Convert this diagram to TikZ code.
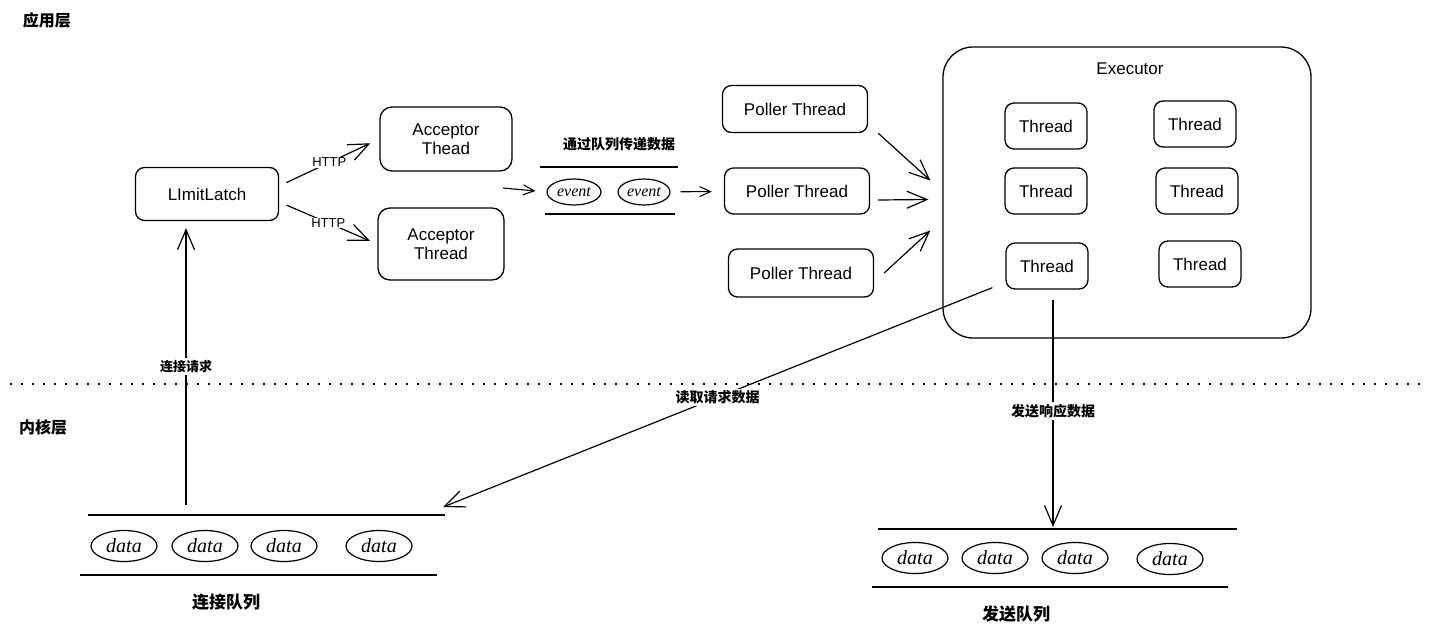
\documentclass[tikz,border=0pt]{standalone}
\usepackage{fontspec}
\setmainfont{Liberation Sans}
\newfontfamily\cjk{Noto Sans CJK SC}
\newfontfamily\handfont{Liberation Serif}
\usetikzlibrary{arrows.meta,shapes.geometric}

\begin{document}
\begin{tikzpicture}[x=1pt,y=-1pt,
    box/.style={draw,line width=1.3pt,rounded corners=9pt,align=center,inner sep=0pt,
      font=\fontsize{17}{19}\selectfont},
    item/.style={draw,ellipse,line width=1.2pt,inner sep=0pt,minimum width=66pt,minimum height=31pt,
      font=\handfont\itshape\fontsize{20}{20}\selectfont},
    arr/.style={-{Straight Barb[length=20pt,width=17pt]},line width=1.2pt},
    smallarr/.style={-{Straight Barb[length=11pt,width=10pt]},line width=1.1pt},
    lbl/.style={font=\cjk\bfseries\fontsize{14}{14}\selectfont,fill=white,inner sep=2pt},
    layer/.style={font=\cjk\bfseries\fontsize{16}{16}\selectfont},
    rail/.style={line width=1.4pt}]
    \useasboundingbox (0,0) rectangle (1434,635);
    % layers
    \node[layer] (app) at (47,20) {应用层};
    \node[layer] (kern) at (43,427) {内核层};
    \draw[line width=1.3pt,dash pattern=on 2pt off 9pt] (10,384) -- (1425,384);
    % acceptors
    \node[box,minimum width=143pt,minimum height=53pt] (latch) at (207,194) {LImitLatch};
    \node[box,minimum width=132pt,minimum height=64pt,rounded corners=12pt] (acc1) at (446,139) {Acceptor\\Thead};
    \node[box,minimum width=126pt,minimum height=72pt,rounded corners=12pt] (acc2) at (441,244) {Acceptor\\Thread};
    \draw[arr,shorten <=8pt,shorten >=10pt] ([yshift=8pt]latch.east) -- (acc1.west)
        node[midway,fill=white,inner sep=1pt,font=\fontsize{13}{13}\selectfont] {HTTP};
    \draw[arr,shorten <=8pt,shorten >=8pt] ([yshift=-8pt]latch.east) -- (acc2.west)
        node[midway,fill=white,inner sep=1pt,font=\fontsize{13}{13}\selectfont] {HTTP};
    % event queue
    \draw[rail] (540,167) -- (678,167);
    \draw[rail] (545,214) -- (675,214);
    \node[lbl] (evqlbl) at (619,144) {通过队列传递数据};
    \node[item,minimum width=54pt,minimum height=26pt,font=\handfont\itshape\fontsize{16}{16}\selectfont] (ev1) at (574,192) {event};
    \node[item,minimum width=52pt,minimum height=26pt,font=\handfont\itshape\fontsize{16}{16}\selectfont] (ev2) at (644,192) {event};
    \coordinate (accout) at (503,188);
    \draw[smallarr,shorten >=11pt] (accout) -- (ev1.west);
    % pollers
    \node[box,minimum width=145pt,minimum height=47pt] (poll1) at (795,109) {Poller Thread};
    \node[box,minimum width=145pt,minimum height=46pt] (poll2) at (797,191) {Poller Thread};
    \node[box,minimum width=145pt,minimum height=48pt] (poll3) at (801,273) {Poller Thread};
    \draw[smallarr,shorten <=10pt,shorten >=12pt] (ev2) -- (poll2);
    % executor
    \node[box,minimum width=368pt,minimum height=291pt,rounded corners=30pt] (exec) at (1127,192.5) {};
    \node[font=\fontsize{17}{19}\selectfont] (execlbl) at (1130,69) {Executor};
    \foreach \n/\x/\y in {t1/1046/126,t2/1046/191,t3/1047/266,t4/1195/124,t5/1197/191,t6/1200/264}
        \node[box,minimum width=82pt,minimum height=46pt] (\n) at (\x,\y) {Thread};
    \draw[arr] ([xshift=10pt]poll1.south east) -- ([xshift=-12pt,yshift=12pt]exec.west);
    \draw[arr] ([xshift=8pt,yshift=-9pt]poll2.east) -- ([xshift=-14pt,yshift=-7pt]exec.west);
    \draw[arr] ([xshift=10pt]poll3.east) -- ([xshift=-12pt,yshift=-38pt]exec.west);
    % kernel queues
    \coordinate (connqin) at (443,507);
    \coordinate (connqout) at (186,505);
    \coordinate (sendqin) at (1053,527);
    \draw[arr] ([xshift=-13pt,yshift=2pt]t3.south west) -- (connqin) node[lbl,midway] {读取请求数据};
    \draw[arr] ([xshift=6pt,yshift=-10pt]t3.south) -- (sendqin) node[lbl,pos=0.49] {发送响应数据};
    \draw[arr] (connqout) -- ([xshift=-21pt,yshift=-7pt]latch.south)
        node[lbl,midway,font=\cjk\bfseries\fontsize{13}{13}\selectfont] {连接请求};
    \draw[rail] (88,515) -- (445,515);
    \draw[rail] (80,575) -- (437,575);
    \foreach \n/\x in {cd1/124,cd2/205,cd3/284,cd4/379}
        \node[item] (\n) at (\x,546) {data};
    \node[layer,font=\cjk\bfseries\fontsize{17}{17}\selectfont] (connqlbl) at (226,602) {连接队列};
    \draw[rail] (878,529) -- (1237,529);
    \draw[rail] (872,587) -- (1228,587);
    \foreach \n/\x/\y in {sd1/915/558,sd2/995/558,sd3/1075/558,sd4/1170/559}
        \node[item] (\n) at (\x,\y) {data};
    \node[layer,font=\cjk\bfseries\fontsize{17}{17}\selectfont] (sendqlbl) at (1016,614) {发送队列};
\end{tikzpicture}
\end{document}
